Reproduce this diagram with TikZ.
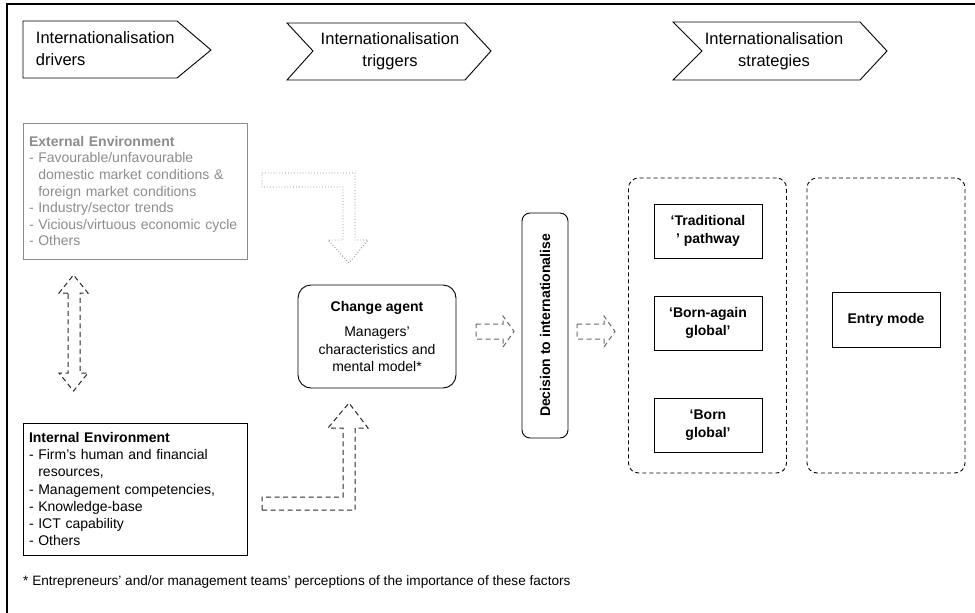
\documentclass[tikz,border=0pt]{standalone}
\usepackage{fontspec}
\setmainfont{Liberation Sans}
\usepackage{tikz}
\usetikzlibrary{positioning}

\definecolor{extgray}{RGB}{140,140,140}
\definecolor{arrgray}{RGB}{40,40,40}

\tikzset{
  headtxt/.style={inner sep=0.75pt, font=\fontsize{16.5}{22}\selectfont},
  envbox/.style={draw, line width=0.9, minimum width=224, inner sep=0pt, text width=212, align=left, font=\fontsize{14}{16.6}\selectfont},
  pathbox/.style={draw, line width=0.9, minimum width=108, minimum height=54, align=center, font=\bfseries\fontsize{14}{18}\selectfont},
  groupbox/.style={draw, dash pattern=on 4pt off 3pt, line width=0.9, rounded corners=10, minimum width=158, minimum height=295},
  blockarr/.style={draw=arrgray, dash pattern=on 5pt off 3.5pt, line width=1}
}

\begin{document}
\begin{tikzpicture}[x=1pt,y=1pt,yscale=-1,xscale=1]
\useasboundingbox (0,0) rectangle (975,613);

%Frame
\draw [line width=1.5] (7,613) -- (7,4) -- (975,4) ;

%Shape: Chevron [drivers]
\draw [line width=0.9] (23,21) -- (177,21) -- (211,50) -- (177,78) -- (23,78) -- cycle ;
%Shape: Chevron [triggers]
\draw [line width=0.9] (287,23) -- (465,23) -- (491,51) -- (465,80) -- (287,80) -- (313,51) -- cycle ;
%Shape: Chevron [strategies]
\draw [line width=0.9] (673,22) -- (860,22) -- (887,51) -- (860,80) -- (673,80) -- (702,51) -- cycle ;

% Text Node
\node [headtxt, anchor=west, align=left] (drivers) at (35,49) {Internationalisation\\drivers};
% Text Node
\node [headtxt, align=center] (triggers) at (390,51) {Internationalisation\\triggers};
% Text Node
\node [headtxt, align=center] (strategies) at (774,51) {Internationalisation\\strategies};

%Environment boxes
\node [envbox, draw=extgray, text=extgray, minimum height=136] (extenv) at (135,191) {\textbf{External Environment}\\- Favourable/unfavourable\\\phantom{- }domestic market conditions \&\\\phantom{- }foreign market conditions\\- Industry/sector trends\\- Vicious/virtuous economic cycle\\- Others};
\node [envbox, minimum height=132, font=\fontsize{14}{17.3}\selectfont] (intenv) at (135,489) {\textbf{Internal Environment}\\- Firm's human and financial\\\phantom{- }resources,\\- Management competencies,\\- Knowledge-base\\- ICT capability\\- Others};

%Change agent
\node [draw, line width=0.9, rounded corners=13, minimum width=158, minimum height=103, align=center, font=\fontsize{14}{17.5}\selectfont] (agent) at (377,336.5) {\textbf{Change agent}\\[8pt]Managers'\\characteristics and\\mental model*};

%Decision
\node [draw, line width=0.9, rounded corners=8, rotate=90, minimum width=225, minimum height=46, font=\bfseries\fontsize{14}{16}\selectfont] (decision) at (545,325.5) {Decision to internationalise};

%Strategy groups
\node [groupbox] (pathgroup) at (707.5,325.5) {};
\node [groupbox] (entrygroup) at (886,325.5) {};

\node [pathbox] (traditional) at (708,231) {`Traditional\\' pathway};
\node [pathbox] (bornagain) at (708,323) {`Born-again\\global'};
\node [pathbox] (bornglobal) at (708,425) {`Born\\global'};
\node [pathbox, minimum height=55] (entrymode) at (886,319.5) {Entry mode};

%Block arrows
\draw [draw=extgray, dotted, line width=0.9] (262,173) -- (355,173) -- (355,240) -- (368,240) -- (349,263) -- (328,240) -- (343,240) -- (343,187) -- (262,187) -- cycle ;
\draw [blockarr] (68,293) -- (59,293) -- (73.5,275) -- (88,293) -- (80,293) -- (80,373) -- (88,373) -- (73.5,391) -- (59,373) -- (68,373) -- cycle ;
\draw [blockarr] (262,510) -- (355,510) -- (355,428) -- (368,428) -- (349,403) -- (328,428) -- (343,428) -- (343,497) -- (262,497) -- cycle ;
\draw [blockarr, draw=arrgray!70] (476,324) -- (503,324) -- (503,316) -- (514,331.5) -- (503,347) -- (503,339) -- (476,339) -- cycle ;
\draw [blockarr, draw=arrgray!70] (577,324) -- (604,324) -- (604,316) -- (615,331.5) -- (604,347) -- (604,339) -- (577,339) -- cycle ;

% Text Node
\node [anchor=west, inner sep=0pt, font=\fontsize{13.6}{16}\selectfont] (footnote) at (23,582) {* Entrepreneurs' and/or management teams' perceptions of the importance of these factors};

\end{tikzpicture}
\end{document}
